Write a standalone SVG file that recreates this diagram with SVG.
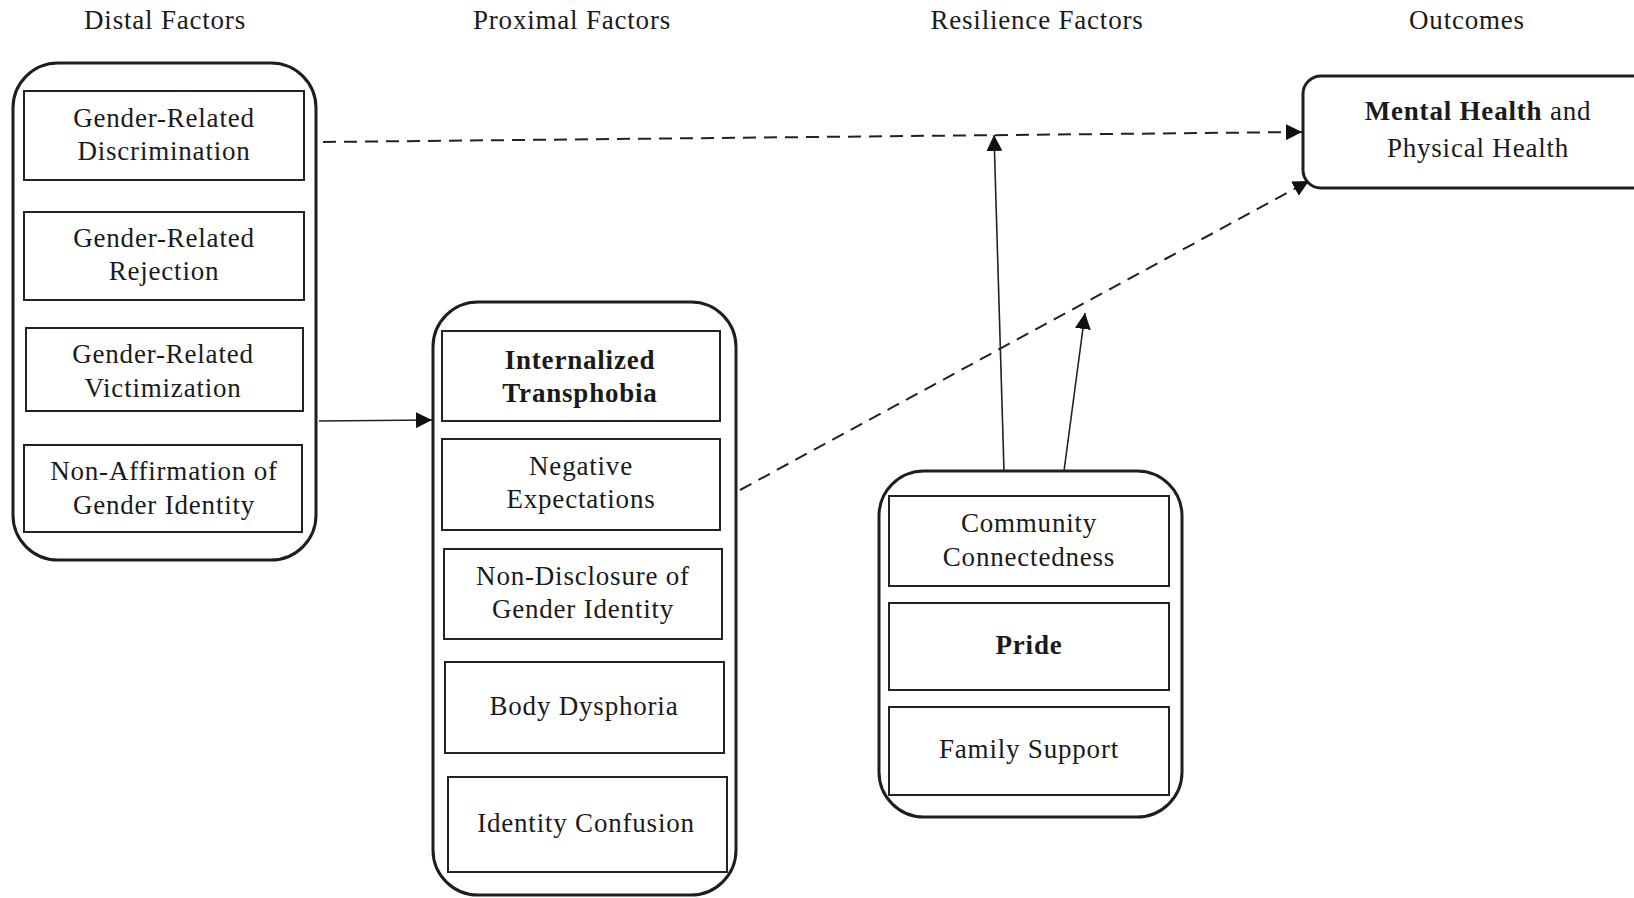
<svg xmlns="http://www.w3.org/2000/svg" width="1634" height="898" viewBox="0 0 1634 898">
<defs>
<style>
text{font-family:"Liberation Serif","Times New Roman",serif;font-size:27px;fill:#1a1a1a;text-anchor:middle;letter-spacing:0.8px}
.b{font-weight:bold}
.outer{fill:none;stroke:#1e1e1e;stroke-width:3}
.inner{fill:none;stroke:#222;stroke-width:2}
.dash{fill:none;stroke:#222;stroke-width:2;stroke-dasharray:13 8}
.solid{fill:none;stroke:#222;stroke-width:1.6}
</style>
<marker id="ah" viewBox="0 0 10 10" refX="10" refY="5" markerWidth="16" markerHeight="16" markerUnits="userSpaceOnUse" orient="auto">
<path d="M0,0 L10,5 L0,10 z" fill="#111"/>
</marker>
</defs>
<rect width="1634" height="898" fill="#fff"/>
<g id="headers">
<text x="165" y="29">Distal Factors</text>
<text x="572" y="29">Proximal Factors</text>
<text x="1037" y="29">Resilience Factors</text>
<text x="1467" y="29">Outcomes</text>
</g>
<g id="distal">
<rect class="outer" x="13" y="63" width="303" height="497" rx="45"/>
<g id="discrimination"><rect class="inner" x="24" y="91" width="280" height="89"/><text x="164" y="127">Gender-Related</text><text x="164" y="160">Discrimination</text></g>
<g id="rejection"><rect class="inner" x="24" y="212" width="280" height="88"/><text x="164" y="247">Gender-Related</text><text x="164" y="280">Rejection</text></g>
<g id="victimization"><rect class="inner" x="26" y="328" width="277" height="83"/><text x="163" y="363">Gender-Related</text><text x="163" y="397">Victimization</text></g>
<g id="nonaffirmation"><rect class="inner" x="24" y="445" width="278" height="87"/><text x="164" y="480">Non-Affirmation of</text><text x="164" y="514">Gender Identity</text></g>
</g>
<g id="proximal">
<rect class="outer" x="433" y="302" width="303" height="593" rx="45"/>
<g id="transphobia"><rect class="inner" x="442" y="331" width="278" height="90"/><text class="b" x="580" y="369">Internalized</text><text class="b" x="580" y="402">Transphobia</text></g>
<g id="expectations"><rect class="inner" x="442" y="439" width="278" height="91"/><text x="581" y="475">Negative</text><text x="581" y="508">Expectations</text></g>
<g id="nondisclosure"><rect class="inner" x="444" y="549" width="278" height="90"/><text x="583" y="585">Non-Disclosure of</text><text x="583" y="618">Gender Identity</text></g>
<g id="dysphoria"><rect class="inner" x="445" y="662" width="279" height="91"/><text x="584" y="715">Body Dysphoria</text></g>
<g id="confusion"><rect class="inner" x="448" y="777" width="279" height="95"/><text x="586" y="832">Identity Confusion</text></g>
</g>
<g id="resilience">
<rect class="outer" x="879" y="471" width="303" height="346" rx="45"/>
<g id="community"><rect class="inner" x="889" y="496" width="280" height="90"/><text x="1029" y="532">Community</text><text x="1029" y="566">Connectedness</text></g>
<g id="pride"><rect class="inner" x="889" y="603" width="280" height="87"/><text class="b" x="1029" y="654">Pride</text></g>
<g id="family"><rect class="inner" x="889" y="707" width="280" height="88"/><text x="1029" y="758">Family Support</text></g>
</g>
<g id="outcomes">
<rect class="outer" x="1303" y="76" width="360" height="112" rx="18"/>
<text x="1478" y="120"><tspan class="b">Mental Health</tspan> and</text>
<text x="1478" y="157">Physical Health</text>
</g>
<g id="connectors">
<path class="dash" d="M323,142 L1302,132" marker-end="url(#ah)"/>
<path class="dash" d="M740,490 L1309,181" marker-end="url(#ah)"/>
<path class="solid" d="M1004,471 L994,135" marker-end="url(#ah)"/>
<path class="solid" d="M1064,471 L1085,313" marker-end="url(#ah)"/>
<path class="solid" d="M319,421 L432,420" marker-end="url(#ah)"/>
</g>
</svg>
